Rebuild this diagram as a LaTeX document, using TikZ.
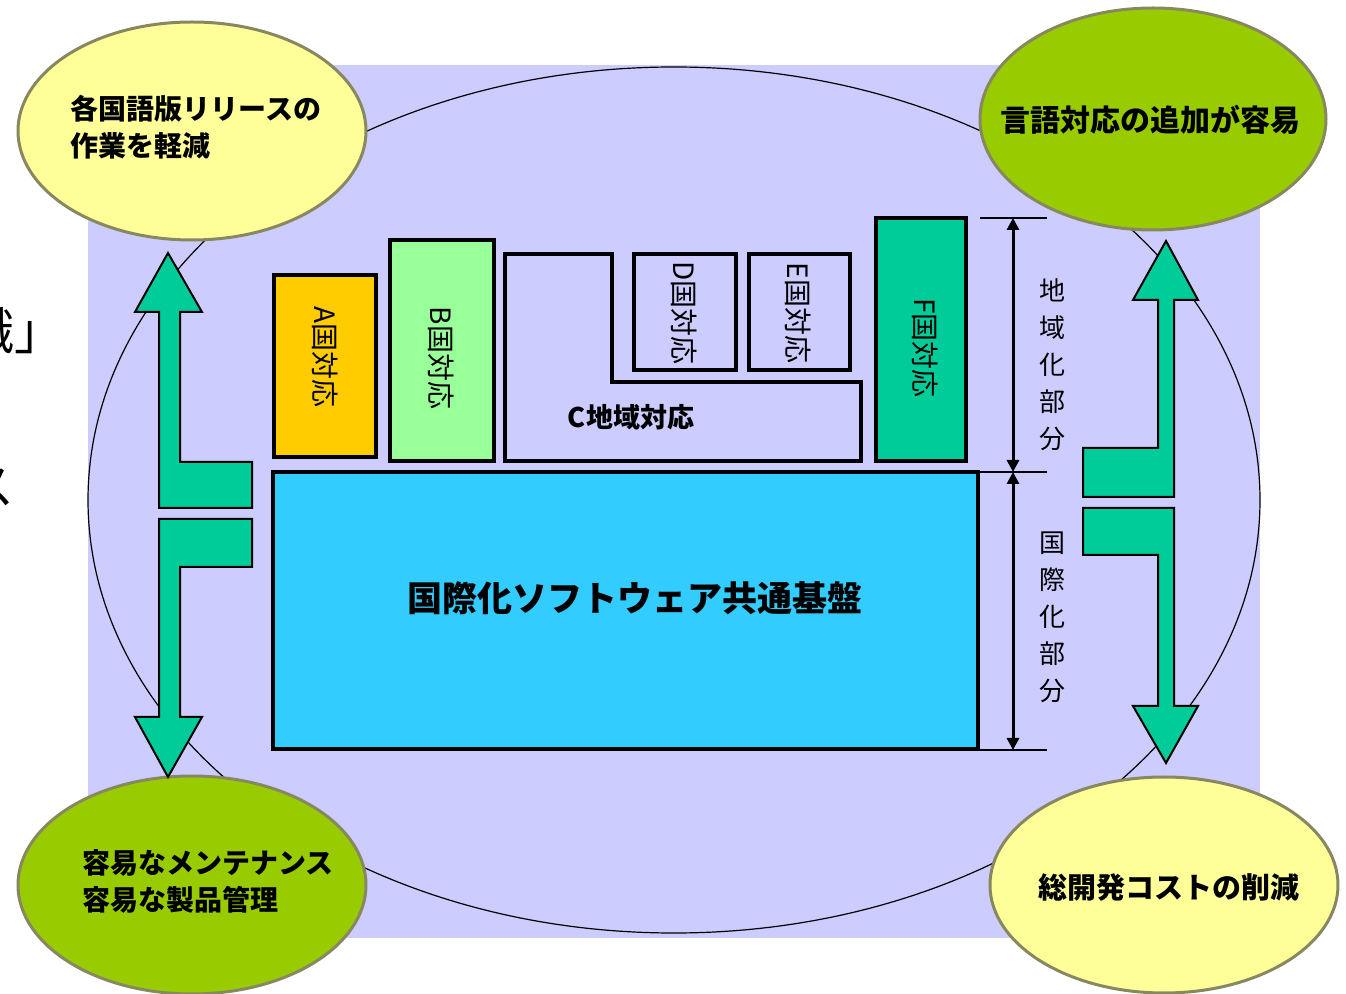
\documentclass[tikz,border=0pt]{standalone}
\usepackage{fontspec}
\newfontfamily\jp{Noto Sans CJK JP}
\usetikzlibrary{shapes.geometric,arrows.meta}
\definecolor{lav}{HTML}{CCCCFF}
\definecolor{yel}{HTML}{FFFF99}
\definecolor{grn}{HTML}{99CC00}
\definecolor{rim}{HTML}{888860}
\definecolor{orangeA}{HTML}{FFCC00}
\definecolor{greenB}{HTML}{99FF99}
\definecolor{tealF}{HTML}{00CC99}
\definecolor{skyblue}{HTML}{33CCFF}
\begin{document}
\begin{tikzpicture}[x=0.5pt,y=-0.5pt,
  box/.style={draw=black,line width=2pt},
  blabel/.style={font=\jp\fontsize{14}{16}\selectfont, rotate=-90, inner sep=0pt},
  corner/.style={ellipse, draw=rim, line width=1.5pt, inner sep=0pt},
  ctext/.style={font=\jp\bfseries\fontsize{14}{18.5}\selectfont, align=left, inner sep=0pt},
  garrow/.style={fill=tealF, draw=black, line width=1pt, line join=miter},
  dimline/.style={line width=1.5pt, {Triangle[length=6pt,width=6pt]}-{Triangle[length=6pt,width=6pt]}},
  dimtick/.style={line width=1pt},
  dimtext/.style={font=\jp\fontsize{13}{18.5}\selectfont, align=center, inner sep=0pt}
]
\useasboundingbox (0,0) rectangle (1346,994);
\fill[white] (0,0) rectangle (1346,994);
% cropped text fragments at left edge (cut off in the reference too)
\node[font=\jp\fontsize{25}{25}\selectfont, inner sep=0pt] (frag1) at (15,331) {識」};
\node[font=\jp\fontsize{25}{25}\selectfont, inner sep=0pt] (frag2) at (-10,487) {ス};
% background
\fill[lav] (88,65) rectangle (1260,938);
\draw[line width=0.6pt] (674,500) ellipse [x radius=586, y radius=433];
% corner ellipses
\node[corner, fill=yel, minimum width=174pt, minimum height=109pt] (tl) at (192,131) {};
\node[corner, fill=grn, minimum width=173pt, minimum height=111pt] (tr) at (1153,119) {};
\node[corner, fill=grn, minimum width=174pt, minimum height=109pt] (bl) at (192,885) {};
\node[corner, fill=yel, minimum width=174pt, minimum height=108pt] (br) at (1164,885) {};
\node[ctext] (tlt) at (196,127) {各国語版リリースの\\作業を軽減};
\node[ctext, font=\jp\bfseries\fontsize{15}{18.5}\selectfont] (trt) at (1150,120) {言語対応の追加が容易};
\node[ctext] (blt) at (208,881) {容易なメンテナンス\\容易な製品管理};
\node[ctext, font=\jp\bfseries\fontsize{14.5}{18.5}\selectfont] (brt) at (1169,888) {総開発コストの削減};
% boxes
\draw[box, fill=orangeA] (274,275) rectangle (376,457);
\draw[box, fill=greenB] (390,240) rectangle (494,461);
\draw[box, fill=lav] (505,254) -- (612,254) -- (612,382) -- (861,382) -- (861,461) -- (505,461) -- cycle;
\draw[box, fill=lav] (634,254) rectangle (736,370);
\draw[box, fill=lav] (749,254) rectangle (850,370);
\draw[box, fill=tealF] (876,218) rectangle (966,461);
\draw[box, fill=skyblue] (273,472) rectangle (978,749);
\node[blabel] (la) at (325,357) {A国対応};
\node[blabel] (lb) at (441,358) {B国対応};
\node[blabel] (ld) at (684,313) {D国対応};
\node[blabel] (le) at (798,313) {E国対応};
\node[blabel] (lf) at (925,348) {F国対応};
\node[font=\jp\bfseries\fontsize{13.5}{15}\selectfont, inner sep=0pt] (lc) at (631,417) {C地域対応};
\node[font=\jp\bfseries\fontsize{17.5}{20}\selectfont, inner sep=0pt] (lmain) at (635,598) {国際化ソフトウェア共通基盤};
% green arrows
\draw[garrow] (168,253) -- (202,312) -- (180,312) -- (180,462) -- (252,462) -- (252,508) -- (159,508) -- (159,312) -- (135,312) -- cycle;
\draw[garrow] (159,519) -- (252,519) -- (252,567) -- (180,567) -- (180,717) -- (202,717) -- (168,777) -- (135,717) -- (159,717) -- cycle;
\draw[garrow] (1166,241) -- (1198,300) -- (1174,300) -- (1174,497) -- (1083,497) -- (1083,448) -- (1158,448) -- (1158,300) -- (1133,300) -- cycle;
\draw[garrow] (1083,508) -- (1174,508) -- (1174,706) -- (1198,706) -- (1166,763) -- (1133,706) -- (1158,706) -- (1158,555) -- (1083,555) -- cycle;
% dimension lines
\coordinate (t1a) at (980,218);
\coordinate (t1b) at (1047,218);
\coordinate (t2a) at (980,472);
\coordinate (t2b) at (1047,472);
\coordinate (t3a) at (980,750);
\coordinate (t3b) at (1047,750);
\coordinate (d1) at (1013,218);
\coordinate (d2) at (1013,472);
\coordinate (d3) at (1013,750);
\draw[dimtick] (t1a) -- (t1b);
\draw[dimtick] (t2a) -- (t2b);
\draw[dimtick] (t3a) -- (t3b);
\draw[dimline] (d1) -- (d2);
\draw[dimline] (d2) -- (d3);
\node[dimtext] (loc) at (1052,365) {地\\域\\化\\部\\分};
\node[dimtext] (intl) at (1052,617) {国\\際\\化\\部\\分};
\end{tikzpicture}
\end{document}
